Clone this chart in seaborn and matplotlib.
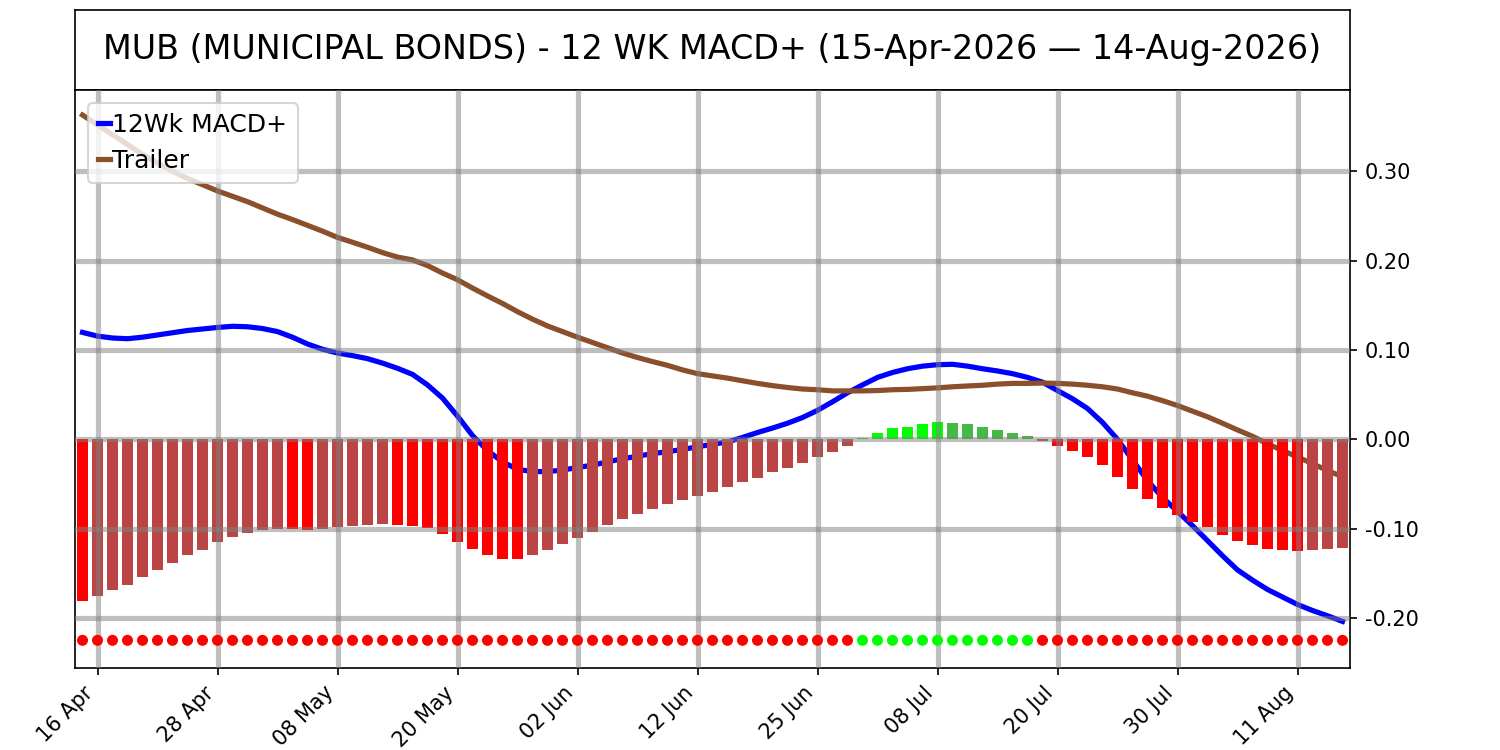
import numpy as np
import pandas as pd
import matplotlib
matplotlib.use("Agg")
import matplotlib.pyplot as plt
import matplotlib.ticker as mticker
import seaborn as sns

# --- data --------------------------------------------------------------------
title = "MUB (MUNICIPAL BONDS) - 12 WK MACD+ (15-Apr-2026 \u2014 14-Aug-2026)"
start_date = "2026-04-15"
end_date = "2026-08-14"
market_holidays = ["2026-05-25", "2026-06-19", "2026-07-03"]

macd = [
    0.1197, 0.1155, 0.1134, 0.1126, 0.1143, 0.1168, 0.1193, 0.1218, 0.1235, 0.1252,
    0.1265, 0.1260, 0.1240, 0.1206, 0.1143, 0.1067, 0.1008, 0.0966, 0.0937, 0.0903,
    0.0853, 0.0795, 0.0727, 0.0609, 0.0462, 0.0260, 0.0042, -0.0126, -0.0252, -0.0336,
    -0.0361, -0.0361, -0.0345, -0.0315, -0.0290, -0.0252, -0.0218, -0.0189, -0.0160, -0.0139,
    -0.0113, -0.0084, -0.0055, -0.0030, 0.0021, 0.0076, 0.0126, 0.0180, 0.0244, 0.0324,
    0.0420, 0.0521, 0.0609, 0.0693, 0.0748, 0.0790, 0.0819, 0.0835, 0.0840, 0.0819,
    0.0790, 0.0765, 0.0735, 0.0693, 0.0640, 0.0546, 0.0454, 0.0345, 0.0189, 0.0000,
    -0.0231, -0.0462, -0.0651, -0.0807, -0.0966, -0.1134, -0.1303, -0.1462, -0.1576, -0.1681,
    -0.1765, -0.1849, -0.1916, -0.1975, -0.2038,
]

trailer = [
    0.3630, 0.3520, 0.3410, 0.3300, 0.3190, 0.3090, 0.3000, 0.2920, 0.2850, 0.2780,
    0.2720, 0.2660, 0.2590, 0.2520, 0.2460, 0.2395, 0.2330, 0.2260, 0.2206, 0.2150,
    0.2090, 0.2040, 0.2008, 0.1945, 0.1861, 0.1786, 0.1693, 0.1605, 0.1521, 0.1429,
    0.1345, 0.1269, 0.1206, 0.1143, 0.1084, 0.1025, 0.0966, 0.0916, 0.0870, 0.0828,
    0.0777, 0.0735, 0.0710, 0.0685, 0.0655, 0.0626, 0.0601, 0.0580, 0.0563, 0.0555,
    0.0542, 0.0542, 0.0542, 0.0546, 0.0555, 0.0559, 0.0567, 0.0576, 0.0588, 0.0597,
    0.0605, 0.0618, 0.0626, 0.0626, 0.0630, 0.0626, 0.0618, 0.0605, 0.0588, 0.0563,
    0.0521, 0.0483, 0.0433, 0.0378, 0.0315, 0.0252, 0.0180, 0.0105, 0.0034, -0.0050,
    -0.0126, -0.0197, -0.0273, -0.0349, -0.0420,
]

histogram = [
    -0.181, -0.175, -0.169, -0.163, -0.154, -0.146, -0.138, -0.130, -0.124, -0.115,
    -0.109, -0.105, -0.102, -0.100, -0.100, -0.101, -0.100, -0.098, -0.0965, -0.0955,
    -0.0950, -0.0955, -0.0965, -0.0990, -0.1060, -0.1147, -0.1227, -0.1290, -0.1336, -0.1340,
    -0.1300, -0.1235, -0.1168, -0.1100, -0.1034, -0.0958, -0.0887, -0.0832, -0.0777, -0.0723,
    -0.0676, -0.0634, -0.0588, -0.0538, -0.0475, -0.0433, -0.0366, -0.0319, -0.0265, -0.0197,
    -0.0143, -0.0076, 0.0020, 0.0076, 0.0122, 0.0143, 0.0176, 0.0189, 0.0186, 0.0172,
    0.0143, 0.0109, 0.0076, 0.0042, -0.0015, -0.0071, -0.0130, -0.0197, -0.0286, -0.0420,
    -0.0555, -0.0672, -0.0769, -0.0845, -0.0924, -0.0987, -0.1067, -0.1134, -0.1180, -0.1227,
    -0.1235, -0.1248, -0.1236, -0.1233, -0.1214,
]

# bar state as drawn in the reference (momentum colouring)
hist_state = (
    ["neg_fall"] + ["neg_rise"] * 13 + ["neg_fall"] * 2 + ["neg_rise"] * 5
    + ["neg_fall"] * 9 + ["neg_rise"] * 22 + ["pos_rise"] * 6 + ["pos_fall"] * 6
    + ["neg_rise"] + ["neg_fall"] * 17 + ["neg_rise"] * 3
)

signal_row = -0.225
y_ticks = [-0.20, -0.10, 0.00, 0.10, 0.20, 0.30]

# --- frame --------------------------------------------------------------------
dates = pd.bdate_range(start_date, end_date, freq="C", holidays=market_holidays)
df = pd.DataFrame({
    "idx": np.arange(len(dates)),
    "macd": macd,
    "trailer": trailer,
    "hist": histogram,
    "state": hist_state,
})
df["signal"] = np.where(df["hist"] > 0, "above", "below")
df["row"] = signal_row

bar_palette = {
    "neg_fall": "#ff0000",
    "neg_rise": "#bb4545",
    "pos_rise": "#00ff00",
    "pos_fall": "#45b945",
}
dot_palette = {"above": "#00ff00", "below": "#ff0000"}

fig = plt.figure(figsize=(10, 5), dpi=150)

# title box
ax_t = fig.add_axes([0.05, 0.88, 0.85, 0.1067])
ax_t.set_xticks([])
ax_t.set_yticks([])
ax_t.text(0.5, 0.5, title, ha="center", va="center", fontsize=16,
          transform=ax_t.transAxes)

ax = fig.add_axes([0.05, 0.1093, 0.85, 0.7707])

sns.lineplot(data=df, x="idx", y="macd", color="blue", lw=2.5,
             label="12Wk MACD+", zorder=1, ax=ax)
sns.lineplot(data=df, x="idx", y="trailer", color="#8b4f2b", lw=2.5,
             label="Trailer", zorder=1, ax=ax)
sns.barplot(data=df, x="idx", y="hist", hue="state", palette=bar_palette,
            native_scale=True, dodge=False, width=0.7, errorbar=None,
            saturation=1, legend=False, linewidth=0, zorder=2, ax=ax)
sns.scatterplot(data=df, x="idx", y="row", hue="signal", palette=dot_palette,
                s=28, linewidth=0, legend=False, zorder=3, ax=ax)

ax.set_xlim(-0.5, len(df) - 0.5)
ax.set_ylim(-0.256, 0.391)
tick_pos = df["idx"].iloc[1::8]
ax.set_xticks(tick_pos)
ax.set_xticklabels([d.strftime("%d %b") for d in dates[1::8]],
                   rotation=45, ha="right")
ax.set_yticks(y_ticks)
ax.yaxis.set_major_formatter(mticker.FormatStrFormatter("%.2f"))
ax.yaxis.tick_right()
ax.set_xlabel("")
ax.set_ylabel("")

ax.set_axisbelow(False)
ax.grid(True, color="grey", alpha=0.5, linewidth=2.5)

ax.legend(loc="upper left", fontsize=12, handlelength=0.5, handletextpad=0.1)

fig.savefig("out.png", dpi=150)
